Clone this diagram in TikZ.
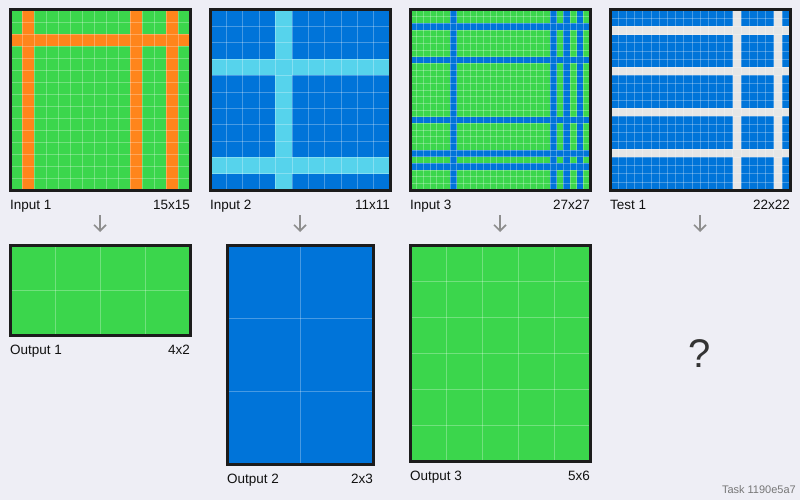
\documentclass[tikz,border=0pt]{standalone}
\usepackage{fontspec}
\setmainfont{Liberation Sans}
\usetikzlibrary{arrows.meta,positioning}
\definecolor{bg}{HTML}{EEEEF5}
\definecolor{arcgreen}{HTML}{3BD64C}
\definecolor{arcorange}{HTML}{FF851B}
\definecolor{arcblue}{HTML}{0074D9}
\definecolor{arcsky}{HTML}{56D3EC}
\definecolor{arcwhite}{HTML}{E6E6E6}
\definecolor{gridedge}{HTML}{1C1C1C}
\definecolor{txt}{HTML}{111111}
\definecolor{dim}{HTML}{777777}
\definecolor{qgray}{HTML}{333333}
\definecolor{arrowgray}{HTML}{8E8E8E}

% #1 name, #2 centre x, #3 top y, #4 cols, #5 rows,
% #6 base colour, #7 stripe colour, #8 stripe rows, #9 stripe cols
\newcommand{\arcgrid}[9]{%
  \pgfmathsetmacro{\cell}{min(180/#4,219/#5)}
  \pgfmathsetmacro{\gw}{\cell*#4}
  \pgfmathsetmacro{\gh}{\cell*#5}
  \pgfmathsetmacro{\gx}{#2-\gw/2}
  \fill[#6] (\gx,#3) rectangle ++(\gw,\gh);
  \foreach \row in {#8} \fill[#7] (\gx,#3+\row*\cell) rectangle ++(\gw,\cell);
  \foreach \col in {#9} \fill[#7] (\gx+\col*\cell,#3) rectangle ++(\cell,\gh);
  \pgfmathtruncatemacro{\lastc}{#4-1}
  \pgfmathtruncatemacro{\lastr}{#5-1}
  \foreach \k in {1,...,\lastc} \draw[cellline] (\gx+\k*\cell,#3) -- ++(0,\gh);
  \foreach \k in {1,...,\lastr} \draw[cellline] (\gx,#3+\k*\cell) -- ++(\gw,0);
  \node[gridframe, minimum width=\gw, minimum height=\gh, anchor=north west] (#1) at (\gx,#3) {};
}

\begin{document}
\begin{tikzpicture}[x=1pt,y=-1pt,
  font=\fontsize{13.5}{16}\selectfont,
  gridframe/.style={draw=gridedge, line width=3pt, inner sep=0pt, outer sep=0pt},
  cellline/.style={draw=white, opacity=0.28, line width=0.6pt},
  lbl/.style={text=txt, inner sep=0pt},
  flowarrow/.style={draw=arrowgray, line width=1.6pt, -{Straight Barb[length=6pt,width=12pt]}},
]
\fill[bg] (0,0) rectangle (800,500);
\useasboundingbox (0,0) rectangle (800,500);
% --- top row: inputs and test ---
\arcgrid{in1}{100}{10}{15}{15}{arcgreen}{arcorange}{2}{1,10,13}
\arcgrid{in2}{300}{10}{11}{11}{arcblue}{arcsky}{3,9}{4}
\arcgrid{in3}{500}{10}{27}{27}{arcgreen}{arcblue}{2,7,16,21,23}{6,21,23,25}
\arcgrid{test}{700}{10}{22}{22}{arcblue}{arcwhite}{2,7,12,17}{15,20}
% --- bottom row: outputs ---
\arcgrid{out1}{100}{245}{4}{2}{arcgreen}{arcgreen}{0}{0}
\arcgrid{out2}{300}{245}{2}{3}{arcblue}{arcblue}{0}{0}
\arcgrid{out3}{500}{245}{5}{6}{arcgreen}{arcgreen}{0}{0}
% labels under each grid
\foreach \n/\t/\s in {in1/Input 1/15x15, in2/Input 2/11x11, in3/Input 3/27x27,
    test/Test 1/22x22, out1/Output 1/4x2, out2/Output 2/2x3, out3/Output 3/5x6} {
  \node[lbl, anchor=base west] (\n name) at ([yshift=-19pt]\n.south west) {\t};
  \node[lbl, anchor=base east] (\n size) at ([yshift=-19pt]\n.south east) {\s};
}
% --- arrows input -> output ---
\foreach \n in {in1,in2,in3,test} {
  \coordinate[below=25pt of \n.south] (\n top);
  \coordinate[below=17pt of \n top] (\n tip);
  \draw[flowarrow] (\n top) -- (\n tip);
}
\node[text=qgray, font=\fontsize{40}{44}\selectfont] (qmark) at (700,354) {?};
\node[text=dim, font=\fontsize{11}{13}\selectfont, anchor=base east, inner sep=0pt] (taskid) at (796,493) {Task 1190e5a7};
\end{tikzpicture}
\end{document}
